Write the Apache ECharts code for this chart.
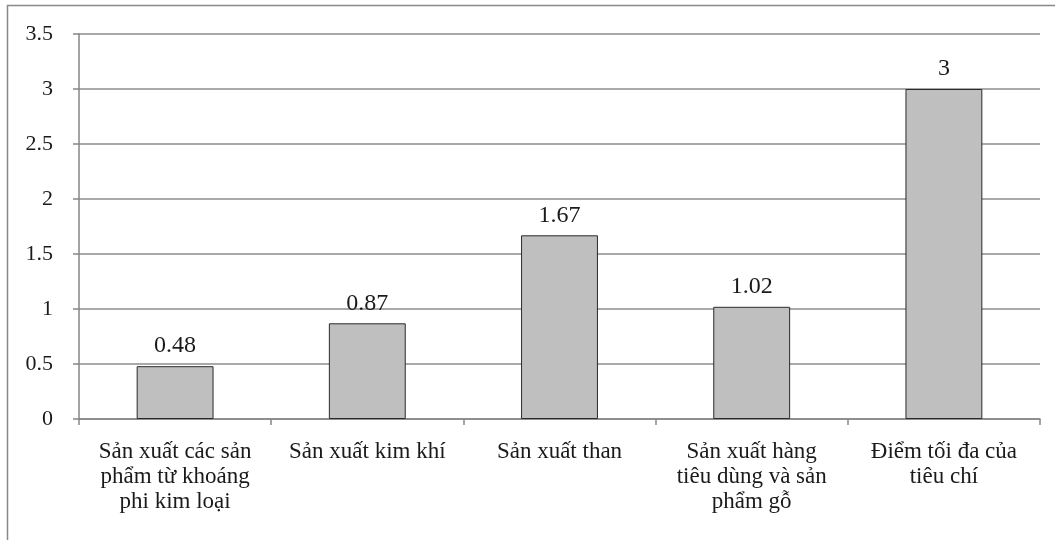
<!DOCTYPE html>
<html><head><meta charset="utf-8">
<script src="https://cdn.jsdelivr.net/npm/echarts@6/dist/echarts.min.js"></script>
<style>html,body{margin:0;padding:0;background:#fff}#c{width:1055px;height:540px}</style>
</head><body><div id="c"></div>
<script>
const categories = [
  "Sản xuất các sản\nphẩm từ khoáng\nphi kim loại",
  "Sản xuất kim khí",
  "Sản xuất than",
  "Sản xuất hàng\ntiêu dùng và sản\nphẩm gỗ",
  "Điểm tối đa của\ntiêu chí"
];
const values = [0.48, 0.87, 1.67, 1.02, 3];
const yMin = 0, yMax = 3.5, yStep = 0.5;

const font = '"Liberation Serif","Times New Roman",serif';
const chart = echarts.init(document.getElementById('c'));
chart.setOption({
  animation: false,
  backgroundColor: '#fff',
  textStyle: { fontFamily: font },
  graphic: [{
    type: 'rect', shape: { x: 7.5, y: 5.5, width: 1100, height: 600 },
    style: { fill: 'none', stroke: '#898989', lineWidth: 1.5 }, silent: true
  }],
  grid: { left: 79, right: 15, top: 34, bottom: 121 },
  xAxis: {
    type: 'category', data: categories,
    axisLine: { lineStyle: { color: '#868686', width: 1.5 } },
    axisTick: { show: true, length: 6, lineStyle: { color: '#868686', width: 1.5 } },
    axisLabel: { color: '#1a1a1a', fontSize: 23, fontFamily: font, margin: 20, lineHeight: 25, interval: 0 }
  },
  yAxis: {
    type: 'value', min: yMin, max: yMax, interval: yStep,
    axisLine: { show: true, lineStyle: { color: '#868686', width: 1.5 } },
    axisTick: { show: true, length: 6, lineStyle: { color: '#868686', width: 1.5 } },
    splitLine: { show: true, lineStyle: { color: '#8c8c8c', width: 1.5 } },
    axisLabel: { color: '#1a1a1a', fontSize: 22, fontFamily: font, margin: 26 }
  },
  series: [{
    type: 'bar', data: values, barWidth: '40%',
    itemStyle: { color: '#bfbfbf', borderColor: '#2a2a2a', borderWidth: 1 },
    label: { show: true, position: 'top', distance: 8, color: '#1a1a1a', fontSize: 24, fontFamily: font }
  }]
});
</script></body></html>
